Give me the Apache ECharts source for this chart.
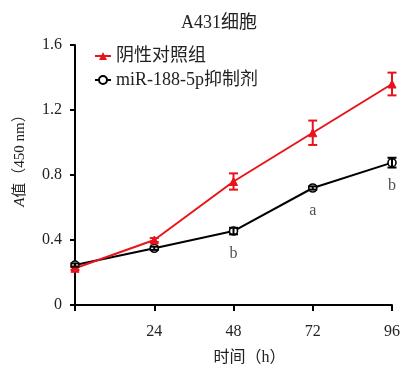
<!DOCTYPE html>
<html><head><meta charset="utf-8">
<script src="https://cdn.jsdelivr.net/npm/echarts@6/dist/echarts.min.js"></script>
<style>html,body{margin:0;padding:0;background:#fff}#c{width:412px;height:366px}</style>
</head><body><div id="c"></div>
<script>
const times = [0, 24, 48, 72, 96];
const xTicks = ['', '24', '48', '72', '96'];
const controlVals = [0.226, 0.40, 0.76, 1.06, 1.36];
const controlErr = [0.01, 0.012, 0.05, 0.075, 0.07];
const inhibVals = [0.246, 0.349, 0.455, 0.72, 0.876];
const inhibErr = [0.01, 0.01, 0.02, 0.01, 0.03];
const sigLabels = ['', '', 'b', 'a', 'b'];
const seriesNames = ['阴性对照组', 'miR-188-5p抑制剂'];

const FF = "'Liberation Serif','Noto Sans CJK SC',serif";
const TXT = '#222';

function errSeries(vals, errs, color) {
  return {
    type: 'custom',
    silent: true,
    z: 5,
    data: times.map((t, i) => [t, vals[i], errs[i]]),
    renderItem: function (params, api) {
      const x = api.value(0), y = api.value(1), e = api.value(2);
      const top = api.coord([x, y + e]);
      const bot = api.coord([x, y - e]);
      const hw = 4.5;
      const st = { stroke: color, lineWidth: 2 };
      return {
        type: 'group',
        children: [
          { type: 'line', shape: { x1: top[0], y1: top[1], x2: bot[0], y2: bot[1] }, style: st },
          { type: 'line', shape: { x1: top[0] - hw, y1: top[1], x2: top[0] + hw, y2: top[1] }, style: st },
          { type: 'line', shape: { x1: bot[0] - hw, y1: bot[1], x2: bot[0] + hw, y2: bot[1] }, style: st }
        ]
      };
    }
  };
}

const chart = echarts.init(document.getElementById('c'), null, { renderer: 'canvas' });
chart.setOption({
  animation: false,
  backgroundColor: '#fff',
  textStyle: { fontFamily: FF, color: TXT },
  title: {
    text: 'A431细胞', left: 176, top: 9,
    textStyle: { fontFamily: FF, fontSize: 18, fontWeight: 'normal', color: TXT }
  },
  legend: {
    orient: 'vertical', left: 89, top: 42, itemWidth: 16, itemHeight: 10, itemGap: 6,
    textStyle: { fontFamily: FF, fontSize: 18, color: TXT },
    data: seriesNames
  },
  grid: { left: 75, right: 20, top: 45, bottom: 61, outerBoundsMode: 'none', containLabel: false },
  xAxis: {
    type: 'value', min: 0, max: 96, interval: 24,
    name: '时间（h）', nameLocation: 'middle', nameGap: 45,
    nameTextStyle: { fontFamily: FF, fontSize: 16, color: TXT, padding: [0, 0, 0, 32] },
    axisLine: { lineStyle: { color: '#000', width: 2 } },
    axisTick: { length: 6, lineStyle: { color: '#000', width: 2 } },
    axisLabel: {
      margin: 19, fontSize: 16, color: TXT, fontFamily: FF,
      formatter: v => xTicks[times.indexOf(v)] ?? ''
    },
    splitLine: { show: false }
  },
  yAxis: {
    type: 'value', min: 0, max: 1.6, interval: 0.4,
    name: '{i|A}值（450 nm）', nameLocation: 'middle', nameGap: 47, nameRotate: 90,
    nameTextStyle: {
      fontFamily: FF, fontSize: 15, color: TXT, padding: [0, 0, 0, 36],
      rich: { i: { fontStyle: 'italic', fontFamily: FF, fontSize: 15, color: TXT } }
    },
    axisLine: { show: true, lineStyle: { color: '#000', width: 2 } },
    axisTick: { show: true, length: 5, lineStyle: { color: '#000', width: 2 } },
    axisLabel: {
      margin: 13, fontSize: 16, color: TXT, fontFamily: FF,
      formatter: v => (v === 0 ? '0' : v.toFixed(1))
    },
    splitLine: { show: false }
  },
  series: [
    {
      name: seriesNames[0], type: 'line',
      data: times.map((t, i) => [t, controlVals[i]]),
      symbol: 'triangle', symbolSize: 8,
      lineStyle: { color: '#e8141c', width: 2 },
      itemStyle: { color: '#e8141c', borderColor: '#e8141c' },
      z: 4
    },
    {
      name: seriesNames[1], type: 'line',
      data: times.map((t, i) => [t, inhibVals[i]]),
      symbol: 'circle', symbolSize: 8, showAllSymbol: true,
      lineStyle: { color: '#000', width: 2 },
      itemStyle: { color: '#fff', borderColor: '#000', borderWidth: 1.6 },
      z: 3
    },
    errSeries(controlVals, controlErr, '#e8141c'),
    errSeries(inhibVals, inhibErr, '#000'),
    {
      type: 'scatter', silent: true, symbolSize: 0,
      data: times.map((t, i) => [t, inhibVals[i]]),
      label: {
        show: true, position: 'bottom', distance: 15,
        fontFamily: FF, fontSize: 16, color: TXT,
        formatter: p => sigLabels[p.dataIndex]
      },
      z: 6
    }
  ]
});
</script>
</body></html>
